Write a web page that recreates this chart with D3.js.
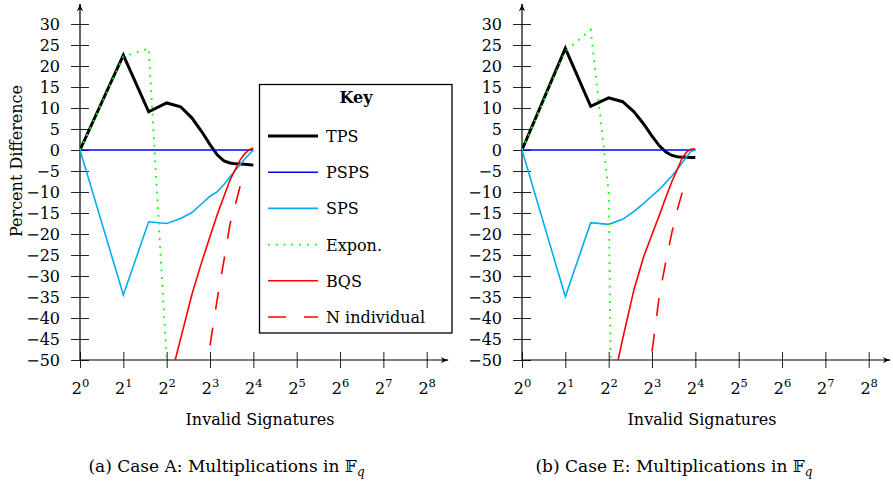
<!DOCTYPE html>
<html>
<head>
<meta charset="utf-8">
<script src="https://cdn.jsdelivr.net/npm/d3@7"></script>
<style>
  body { margin: 0; background: #fff; }
</style>
</head>
<body>
<div id="chart"></div>
<script>
const W = 893, H = 485;
const FONT = "'DejaVu Serif', serif";
const FS = '16px';

// invalid signatures (x) and axis ticks
const signatures = d3.range(1, 17);
const xTickExps = [0, 1, 2, 3, 4, 5, 6, 7, 8];
const yTicks = d3.range(-50, 31, 5);
const keyNames = ['TPS', 'PSPS', 'SPS', 'Expon.', 'BQS', 'N individual'];

// Case A
const tpsA = [0, 22.6, 9.1, 11.2, 10.3, 7.6, 4.4, 1.3, -1.2, -2.6, -3.1, -3.3, -3.35, -3.4, -3.5, -3.6];
const pspsA = [0, 0, 0, 0, 0, 0, 0, 0, 0, 0, 0, 0, 0, 0, 0, 0];
const spsA = [0, -34.5, -17.1, -17.5, -16.3, -14.9, -12.8, -11.0, -9.9, -8.2, -6.4, -4.8, -3.4, -2.1, -1.0, 0];
const exponNA = [1, 2, 3, 4];
const exponA = [0, 22.2, 24.2, -50];
const bqsNA = d3.range(4, 17);
const bqsA = [-58, -44.9, -34.3, -26.7, -20.6, -15.3, -11.0, -7.2, -4.6, -2.3, -0.8, 0.1, 0.5];
const nIndNA = d3.range(8, 14);
const nIndA = [-46.5, -35.3, -26.3, -17.8, -13.0, -8.4];

// Case E
const tpsE = [0, 24.2, 10.4, 12.4, 11.5, 9.1, 6.2, 3.3, 1.0, -0.5, -1.3, -1.6, -1.7, -1.75, -1.8, -1.8];
const pspsE = [0, 0, 0, 0, 0, 0, 0, 0, 0, 0, 0, 0, 0, 0, 0, 0];
const spsE = [0, -34.9, -17.3, -17.7, -16.5, -14.6, -12.7, -10.9, -9.4, -7.7, -6.2, -4.6, -3.0, -1.5, -0.3, 0];
const exponNE = [1, 2, 3, 4, 5];
const exponE = [0, 23.5, 28.6, -10, -300];
const bqsNE = d3.range(4, 17);
const bqsE = [-60.6, -45.0, -33.2, -25.4, -20.1, -15.5, -11.2, -7.5, -4.6, -1.8, -0.4, 0.2, 0.2];
const nIndNE = d3.range(8, 14);
const nIndE = [-48, -34.6, -26.4, -19.6, -14.2, -10.0];

const styles = {
  'TPS': { color: '#000', width: 3 },
  'PSPS': { color: '#0000ff', width: 1.6 },
  'SPS': { color: '#00aeef', width: 1.6 },
  'Expon.': { color: '#00ff00', width: 1.8, dash: '1.8,6' },
  'BQS': { color: '#ff0000', width: 1.6 },
  'N individual': { color: '#ff0000', width: 1.6, dash: '18,18' },
};

const svg = d3.select('#chart').append('svg')
  .attr('width', W)
  .attr('height', H)
  .attr('font-family', FONT)
  .style('display', 'block');

const defs = svg.append('defs');
defs.append('marker')
  .attr('id', 'arrow')
  .attr('viewBox', '0 -5 10 10')
  .attr('refX', 9)
  .attr('refY', 0)
  .attr('markerWidth', 8)
  .attr('markerHeight', 8)
  .attr('markerUnits', 'userSpaceOnUse')
  .attr('orient', 'auto')
  .append('path')
  .attr('d', 'M0,-4 Q5,-1 10,0 Q5,1 0,4 L2.5,0 Z')
  .attr('fill', '#000');

function label(sel) {
  return sel.attr('font-family', FONT).attr('fill', '#000').style('font-size', FS);
}

function drawPanel(id, ox, series, opts) {
  const g = svg.append('g');
  const x = d3.scaleLog().base(2).domain([1, 256]).range([ox, ox + 346.7]);
  const y = d3.scaleLinear().domain([-50, 30]).range([360, 24]);

  defs.append('clipPath').attr('id', 'clip' + id)
    .append('rect')
    .attr('x', ox).attr('y', 0)
    .attr('width', 370).attr('height', 360);

  // y axis
  const yg = g.append('g')
    .attr('transform', `translate(${ox},0)`)
    .call(d3.axisLeft(y).tickValues(yTicks).tickSize(9).tickPadding(11)
      .tickFormat((d) => (d < 0 ? '\u2212' + Math.abs(d) : d)));
  yg.attr('font-family', FONT).attr('font-size', null);
  yg.select('.domain').remove();
  yg.selectAll('.tick line').attr('x1', 9).attr('stroke', '#222');
  label(yg.selectAll('.tick text'));

  // x axis
  const xg = g.append('g')
    .attr('transform', 'translate(0,360)')
    .call(d3.axisBottom(x).tickValues(xTickExps.map((e) => 2 ** e)).tickSize(8).tickFormat(''));
  xg.attr('font-family', FONT).attr('font-size', null);
  xg.select('.domain').remove();
  xg.selectAll('.tick line').attr('y1', -8).attr('stroke', '#222');
  xg.selectAll('.tick text').remove();
  xg.selectAll('.tick').each(function (d) {
    const t = label(d3.select(this).append('text'))
      .attr('y', 34)
      .attr('text-anchor', 'middle');
    t.append('tspan').text('2');
    t.append('tspan').attr('dy', -7).style('font-size', '11.5px').text(Math.round(Math.log2(d)));
  });

  g.append('line')
    .attr('x1', ox).attr('x2', ox).attr('y1', 360).attr('y2', 4)
    .attr('stroke', '#000').attr('stroke-width', 1.2)
    .attr('marker-end', 'url(#arrow)');
  g.append('line')
    .attr('x1', ox).attr('x2', ox + 368).attr('y1', 360).attr('y2', 360)
    .attr('stroke', '#000').attr('stroke-width', 1.2)
    .attr('marker-end', 'url(#arrow)');

  const line = d3.line()
    .x((d) => x(d[0]))
    .y((d) => y(d[1]));

  const plot = g.append('g').attr('clip-path', `url(#clip${id})`);
  series.forEach((s) => {
    const st = styles[s.name];
    plot.append('path')
      .datum(d3.zip(s.n, s.v))
      .attr('d', line)
      .attr('fill', 'none')
      .attr('stroke', st.color)
      .attr('stroke-width', st.width)
      .attr('stroke-dasharray', st.dash || null)
      .attr('stroke-linejoin', 'miter');
  });

  label(g.append('text'))
    .attr('x', ox + 180)
    .attr('y', 425)
    .attr('text-anchor', 'middle')
    .text('Invalid Signatures');

  const cap = label(g.append('text'))
    .attr('x', opts.capX)
    .attr('y', 472)
    .attr('text-anchor', 'middle')
    .style('font-size', '17px');
  cap.append('tspan').text(opts.caption + ' ');
  cap.append('tspan').text('\u{1D53D}');
  cap.append('tspan').attr('dy', 4).style('font-size', '12px').style('font-style', 'italic').text('q');

  if (opts.yLabel) {
    label(g.append('text'))
      .attr('transform', 'translate(21.5,161) rotate(-90)')
      .attr('text-anchor', 'middle')
      .text('Percent Difference');
  }

  if (opts.key) {
    const kg = g.append('g');
    kg.append('rect')
      .attr('x', 259.5).attr('y', 84.5)
      .attr('width', 192.5).attr('height', 248.5)
      .attr('fill', '#fff')
      .attr('stroke', '#000')
      .attr('stroke-width', 1.3);
    label(kg.append('text'))
      .attr('x', 356).attr('y', 103)
      .attr('text-anchor', 'middle')
      .style('font-weight', 'bold')
      .text('Key');
    keyNames.forEach((name, i) => {
      const st = styles[name];
      const cy = 136 + i * 36.2;
      kg.append('line')
        .attr('x1', 268).attr('x2', 318)
        .attr('y1', cy).attr('y2', cy)
        .attr('stroke', st.color)
        .attr('stroke-width', name === 'TPS' ? 3 : 1.6)
        .attr('stroke-dasharray', st.dash || null);
      label(kg.append('text'))
        .attr('x', 326).attr('y', cy + 6)
        .text(name);
    });
  }
}

drawPanel('A', 80, [
  { name: 'TPS', n: signatures, v: tpsA },
  { name: 'PSPS', n: signatures, v: pspsA },
  { name: 'SPS', n: signatures, v: spsA },
  { name: 'Expon.', n: exponNA, v: exponA },
  { name: 'BQS', n: bqsNA, v: bqsA },
  { name: 'N individual', n: nIndNA, v: nIndA },
], { yLabel: true, key: true, caption: '(a) Case A: Multiplications in', capX: 226.5 });

drawPanel('E', 522, [
  { name: 'TPS', n: signatures, v: tpsE },
  { name: 'PSPS', n: signatures, v: pspsE },
  { name: 'SPS', n: signatures, v: spsE },
  { name: 'Expon.', n: exponNE, v: exponE },
  { name: 'BQS', n: bqsNE, v: bqsE },
  { name: 'N individual', n: nIndNE, v: nIndE },
], { yLabel: false, key: false, caption: '(b) Case E: Multiplications in', capX: 674 });
</script>
</body>
</html>
